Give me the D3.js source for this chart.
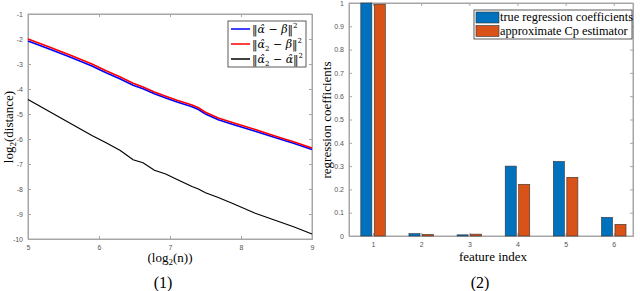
<!DOCTYPE html>
<html>
<head>
<meta charset="utf-8">
<script src="https://cdn.jsdelivr.net/npm/d3@7"></script>
<style>
  body { margin: 0; background: #fff; }
  svg text { font-family: "Liberation Serif", "DejaVu Serif", serif; }
  .tick text { font-family: "Liberation Sans", Arial, sans-serif; font-size: 7px; fill: #555; }
  .mathleg { font-family: "DejaVu Serif", serif; }
</style>
</head>
<body>
<svg id="chart" width="640" height="291"></svg>
<script>
// left panel data (log2 n vs log2 distance)
var logN = [5, 5.3, 5.6, 5.9, 6.1, 6.3, 6.48, 6.62, 6.78, 6.94, 7.1, 7.31, 7.4, 7.5, 7.68, 7.9, 8.2, 8.5, 8.75, 9];
var distAlphaBeta = [-2.08, -2.4, -2.73, -3.08, -3.35, -3.6, -3.85, -3.99, -4.19, -4.36, -4.52, -4.71, -4.82, -5.0, -5.23, -5.43, -5.69, -5.96, -6.18, -6.42];
var distAlpha2Beta = [-2.0, -2.32, -2.65, -3.0, -3.27, -3.52, -3.77, -3.92, -4.12, -4.29, -4.45, -4.64, -4.75, -4.93, -5.16, -5.36, -5.62, -5.9, -6.12, -6.36];
var distAlpha2Alpha = [-4.42, -4.9, -5.38, -5.86, -6.15, -6.46, -6.83, -6.95, -7.25, -7.4, -7.62, -7.9, -8.0, -8.15, -8.34, -8.6, -8.97, -9.27, -9.52, -9.8];
var leftYTicks = [-10, -9, -8, -7, -6, -5, -4, -3, -2, -1];
var leftXTicks = [5, 6, 7, 8, 9];

// right panel data
var features = [1, 2, 3, 4, 5, 6];
var trueCoef = [1.0, 0.01, 0.005, 0.3, 0.32, 0.08];
var cpCoef = [0.995, 0.007, 0.008, 0.222, 0.252, 0.05];
var rightYTicks = [0, 0.1, 0.2, 0.3, 0.4, 0.5, 0.6, 0.7, 0.8, 0.9, 1];

var svg = d3.select("#chart");
var boxColor = "#a6a6a6";

//PANEL 1 ---------------------------------------------------------------
var L = {left: 28, right: 312, top: 14, bottom: 239};
var xL = d3.scaleLinear().domain([5, 9]).range([L.left, L.right]);
var yL = d3.scaleLinear().domain([-10, -1]).range([L.bottom, L.top]);

var g1 = svg.append("g");
g1.append("rect")
  .attr("x", L.left).attr("y", L.top)
  .attr("width", L.right - L.left).attr("height", L.bottom - L.top)
  .attr("fill", "none").attr("stroke", boxColor).attr("stroke-width", 1);

g1.append("g").attr("transform", "translate(0," + L.bottom + ")")
  .call(d3.axisBottom(xL).tickValues(leftXTicks).tickSize(-3).tickPadding(6).tickFormat(d3.format("d")));
g1.append("g").attr("transform", "translate(0," + L.top + ")")
  .call(d3.axisTop(xL).tickValues(leftXTicks).tickSize(-3).tickFormat(""));
g1.append("g").attr("transform", "translate(" + L.left + ",0)")
  .call(d3.axisLeft(yL).tickValues(leftYTicks).tickSize(-3).tickPadding(5).tickFormat(d => d));
g1.append("g").attr("transform", "translate(" + L.right + ",0)")
  .call(d3.axisRight(yL).tickValues(leftYTicks).tickSize(-3).tickFormat(""));

var lineL = d3.line().x((d, i) => xL(logN[i])).y(d => yL(d));
g1.append("path").datum(distAlpha2Alpha).attr("d", lineL)
  .attr("fill", "none").attr("stroke", "#000").attr("stroke-width", 1.2);
g1.append("path").datum(distAlphaBeta).attr("d", lineL)
  .attr("fill", "none").attr("stroke", "#0000ff").attr("stroke-width", 1.6);
g1.append("path").datum(distAlpha2Beta).attr("d", lineL)
  .attr("fill", "none").attr("stroke", "#ff0000").attr("stroke-width", 1.6);

// legend
var leg1 = g1.append("g");
leg1.append("rect").attr("x", 228).attr("y", 21).attr("width", 78).attr("height", 46)
  .attr("fill", "#fff").attr("stroke", "#333").attr("stroke-width", 0.8);
var legItems = [
  {color: "#0000ff", sub: false, last: "\u03b2", lastHat: false},
  {color: "#ff0000", sub: true, last: "\u03b2", lastHat: false},
  {color: "#000", sub: true, last: "\u03b1", lastHat: true}
];
legItems.forEach(function (it, i) {
  var yy = 29 + i * 15;
  leg1.append("line").attr("x1", 231).attr("x2", 250).attr("y1", yy).attr("y2", yy)
    .attr("stroke", it.color).attr("stroke-width", 1.5);
  var t = leg1.append("text").attr("class", "mathleg").attr("x", 252).attr("y", yy + 4).attr("font-size", "11px");
  t.append("tspan").text("\u2016");
  t.append("tspan").attr("font-style", "italic").text("\u03b1\u0302");
  if (it.sub) t.append("tspan").attr("font-size", "7px").attr("dy", 3).text("2");
  t.append("tspan").attr("dy", it.sub ? -3 : 0).text(" \u2212 ");
  t.append("tspan").attr("font-style", "italic").text(it.lastHat ? it.last + "\u0302" : it.last);
  t.append("tspan").text("\u2016");
  t.append("tspan").attr("font-size", "7px").attr("dy", -5).text("2");
});

// axis labels
var yl1 = g1.append("text").attr("transform", "translate(13,127) rotate(-90)")
  .attr("text-anchor", "middle").attr("font-size", "13px");
yl1.append("tspan").text("log");
yl1.append("tspan").attr("font-size", "9px").attr("dy", 3).text("2");
yl1.append("tspan").attr("dy", -3).text("(distance)");

var xl1 = g1.append("text").attr("x", 170).attr("y", 262)
  .attr("text-anchor", "middle").attr("font-size", "13px");
xl1.append("tspan").text("(log");
xl1.append("tspan").attr("font-size", "9px").attr("dy", 3).text("2");
xl1.append("tspan").attr("dy", -3).text("(n))");

g1.append("text").attr("x", 163).attr("y", 288).attr("text-anchor", "middle")
  .attr("font-size", "16px").text("(1)");

//PANEL 2 ---------------------------------------------------------------
var R = {left: 349, right: 633, top: 3, bottom: 236};
var xR = d3.scaleLinear().domain([0.5, 6.4]).range([R.left, R.right]);
var yR = d3.scaleLinear().domain([0, 1]).range([R.bottom, R.top]);

var g2 = svg.append("g");
g2.append("rect")
  .attr("x", R.left).attr("y", R.top)
  .attr("width", R.right - R.left).attr("height", R.bottom - R.top)
  .attr("fill", "none").attr("stroke", boxColor).attr("stroke-width", 1);

g2.append("g").attr("transform", "translate(0," + R.bottom + ")")
  .call(d3.axisBottom(xR).tickValues(features).tickSize(-3).tickPadding(6).tickFormat(d3.format("d")));
g2.append("g").attr("transform", "translate(0," + R.top + ")")
  .call(d3.axisTop(xR).tickValues(features).tickSize(-3).tickFormat(""));
g2.append("g").attr("transform", "translate(" + R.left + ",0)")
  .call(d3.axisLeft(yR).tickValues(rightYTicks).tickSize(-3).tickPadding(5).tickFormat(d => d));
g2.append("g").attr("transform", "translate(" + R.right + ",0)")
  .call(d3.axisRight(yR).tickValues(rightYTicks).tickSize(-3).tickFormat(""));

svg.selectAll(".domain").attr("stroke", boxColor);
svg.selectAll(".tick line").attr("stroke", boxColor);

var barW = xR(0.73) - xR(0.5);
var off = xR(0.64) - xR(0.5);
g2.selectAll(".barTrue").data(trueCoef).enter().append("rect")
  .attr("x", (d, i) => xR(features[i]) - off - barW / 2)
  .attr("y", d => yR(d))
  .attr("width", barW).attr("height", d => yR(0) - yR(d))
  .attr("fill", "#0072bd").attr("stroke", "#333").attr("stroke-width", 0.6);
g2.selectAll(".barCp").data(cpCoef).enter().append("rect")
  .attr("x", (d, i) => xR(features[i]) + off - barW / 2)
  .attr("y", d => yR(d))
  .attr("width", barW).attr("height", d => yR(0) - yR(d))
  .attr("fill", "#d95319").attr("stroke", "#333").attr("stroke-width", 0.6);

// legend
var leg2 = g2.append("g");
leg2.append("rect").attr("x", 474).attr("y", 10).attr("width", 158).attr("height", 29)
  .attr("fill", "#fff").attr("stroke", "#333").attr("stroke-width", 0.8);
[["#0072bd", "true regression coefficients"], ["#d95319", "approximate Cp estimator"]].forEach(function (e, i) {
  var yy = 12 + i * 13.5;
  leg2.append("rect").attr("x", 476).attr("y", yy).attr("width", 23).attr("height", 11)
    .attr("fill", e[0]).attr("stroke", "#333").attr("stroke-width", 0.6);
  leg2.append("text").attr("x", 500).attr("y", yy + 9).attr("font-size", "12.3px").text(e[1]);
});

g2.append("text").attr("transform", "translate(331,120) rotate(-90)")
  .attr("text-anchor", "middle").attr("font-size", "13px").text("regression coefficients");
g2.append("text").attr("x", 493).attr("y", 261).attr("text-anchor", "middle")
  .attr("font-size", "13px").text("feature index");
g2.append("text").attr("x", 480).attr("y", 288).attr("text-anchor", "middle")
  .attr("font-size", "16px").text("(2)");
</script>
</body>
</html>
